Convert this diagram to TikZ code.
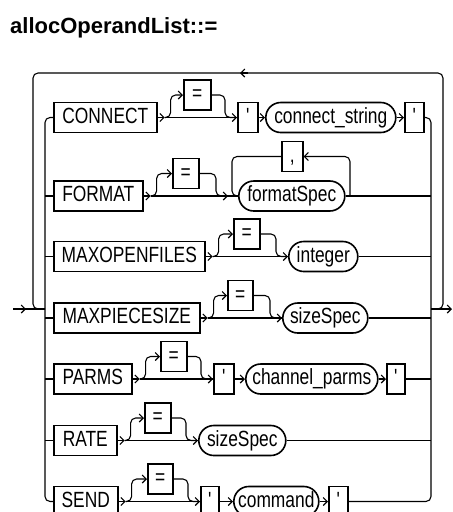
\documentclass[tikz,border=0pt]{standalone}
\usepackage{fontspec}
\setmainfont{Liberation Sans}
\newfontfamily\railfont{Liberation Sans}[FakeStretch=0.79]
\usetikzlibrary{calc,arrows.meta}

\tikzset{
	ln/.style={line width=1.1pt},
	tip/.style={-{Straight Barb[length=4pt,width=8pt]}},
	rc/.style={rounded corners=5pt},
	kw/.style={draw,line width=1.6pt,anchor=west,inner sep=0pt,minimum height=30pt,text height=16pt,text depth=4.8pt,font={\railfont\fontsize{22pt}{24pt}\selectfont}},
	nt/.style={kw,rounded corners=15pt},
}

\begin{document}
\begin{tikzpicture}[x=1pt,y=-1pt]
				\useasboundingbox (0,0) rectangle (453,512);
				\node[anchor=base west,inner sep=0pt,font={\bfseries\fontsize{22pt}{24pt}\selectfont}] (title) at (10,33) {allocOperandList::=};
				
				\coordinate (in) at (13,309);
				\coordinate (L) at (45,309);
				\coordinate (R) at (431,309);
				\coordinate (out) at (452,309);
				\coordinate (lpR) at (443,73);
				\coordinate (lpL) at (33,73);
				\coordinate (back) at (240,73);
				
				\node[kw,minimum width=103pt] (k1) at (53,117.5) {CONNECT};
				\node[kw,minimum width=27pt] (e1) at (183,95) {=};
				\node[kw,minimum width=20pt] (q1a) at (237,117.5) {'};
				\node[nt,minimum width=130pt] (s1) at (265,117.5) {connect\_string};
				\node[kw,minimum width=19pt] (q1b) at (404,117.5) {'};
				
				\node[kw,minimum width=89pt] (k2) at (53,196) {FORMAT};
				\node[kw,minimum width=26pt] (e2) at (172,173.5) {=};
				\coordinate (j2) at (228,196);
				\node[nt,minimum width=106pt] (f2) at (238,196) {formatSpec};
				\node[kw,minimum width=21pt] (c2) at (281,156.5) {,};
				\coordinate (lp2) at (350,196);
				
				\node[kw,minimum width=151pt] (k3) at (53,256.5) {MAXOPENFILES};
				\node[kw,minimum width=26pt] (e3) at (233,234) {=};
				\node[nt,minimum width=69pt] (n3) at (288,256.5) {integer};
				
				\node[kw,minimum width=146pt] (k4) at (53,318) {MAXPIECESIZE};
				\node[kw,minimum width=25pt] (e4) at (227,295.5) {=};
				\node[nt,minimum width=85pt] (n4) at (282,318) {sizeSpec};
				
				\node[kw,minimum width=78pt] (k5) at (53,379) {PARMS};
				\node[kw,minimum width=26pt] (e5) at (160,356.5) {=};
				\node[kw,minimum width=20pt] (q5a) at (213,379) {'};
				\node[nt,minimum width=132pt] (p5) at (245,379) {channel\_parms};
				\node[kw,minimum width=18pt] (q5b) at (386,379) {'};
				
				\node[kw,minimum width=63pt] (k6) at (53,440.5) {RATE};
				\node[kw,minimum width=26pt] (e6) at (144,418) {=};
				\node[nt,minimum width=87pt] (n6) at (198,440.5) {sizeSpec};
				
				\node[kw,minimum width=64pt] (k7) at (53,501.5) {SEND};
				\node[kw,minimum width=25pt] (e7) at (147,479) {=};
				\node[kw,minimum width=18pt] (q7a) at (200,501.5) {'};
				\node[nt,minimum width=85pt] (m7) at (233,501.5) {command};
				\node[kw,minimum width=19pt] (q7b) at (328,501.5) {'};
				
				\draw[ln,tip] (in) -- ++(13,0);
				\draw[ln] (in) -- (L);
				\draw[ln,tip] (R) -- (out);
				\draw[ln,rc] (R) -| (lpR) -| (lpL |- L) -- (L);
				\draw[ln,tip] ($(back)+(8,0)$) -- (back);
				
				\draw[ln,rc] (k1.west) -| (L) |- (k7.west);
				\draw[ln,rc] (q1b.east) -| (R) |- (q7b.east);
				\foreach \r in {2,...,6}{
					\draw[ln] (k\r.west -| L) -- (k\r.west);
				}
				\foreach \n in {f2,n3,n4,q5b,n6}{
					\draw[ln] (\n.east) -- (\n.east -| R);
				}
				
				\foreach \r/\n in {1/q1a.west,2/j2,3/n3.west,4/n4.west,5/q5a.west,6/n6.west,7/q7a.west}{
					\draw[ln,tip] (k\r.east) -- ++(7,0) coordinate (a\r);
					\draw[ln,rc,tip] (a\r) -- ++(6,0) |- (e\r.west);
					\draw[ln,rc,tip] (e\r.east) -| ($(\n)+(-12,0)$) -- (\n);
					\draw[ln] (a\r) -- (\n);
				}
				
				\draw[ln,tip] (q1a.east) -- (s1.west);
				\draw[ln,tip] (s1.east) -- (q1b.west);
				
				\draw[ln] (j2) -- (f2.west);
				\draw[ln,rc,tip] (lp2) |- (c2.east);
				\draw[ln,rc] (c2.west) -| ($(f2.west)+(-6,0)$) -- (f2.west);
				
				\draw[ln,tip] (q5a.east) -- (p5.west);
				\draw[ln,tip] (p5.east) -- (q5b.west);
				
				\draw[ln,tip] (q7a.east) -- (m7.west);
				\draw[ln,tip] (m7.east) -- (q7b.west);
			\end{tikzpicture}
\end{document}
